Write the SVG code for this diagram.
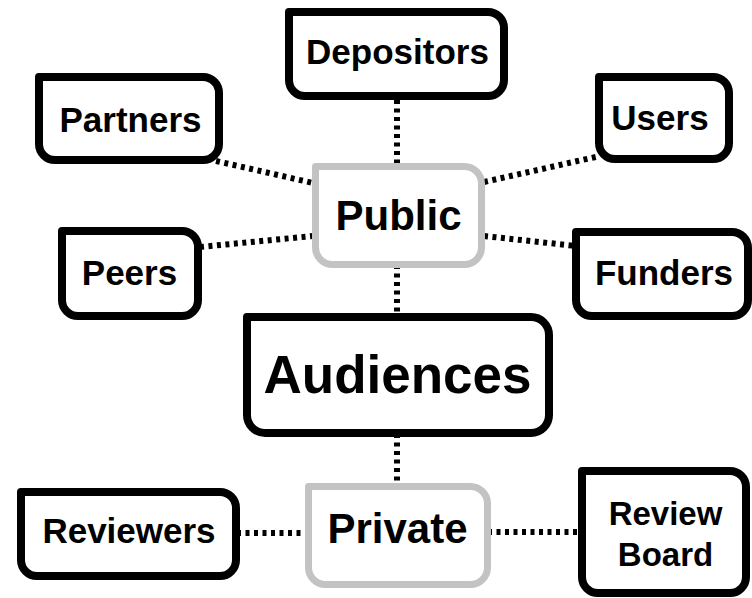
<svg xmlns="http://www.w3.org/2000/svg" width="752" height="598" viewBox="0 0 752 598">
<style>
.b{fill:#fff;stroke:#000;stroke-width:8;stroke-linejoin:round}
.g{fill:#fff;stroke:#c3c3c3;stroke-width:7;stroke-linejoin:round}
.c{stroke:#000;stroke-width:6;stroke-dasharray:4 4.5;fill:none}
text{font-family:"Liberation Sans",Arial,sans-serif;font-weight:bold;fill:#000;text-anchor:middle}
.s{font-size:35px}
.m{font-size:42px}
.l{font-size:53px}
</style>
<rect width="752" height="598" fill="#fff"/>
<g id="connectors">
<line class="c" x1="397" y1="100" x2="397" y2="166"/>
<line class="c" x1="397" y1="265" x2="397" y2="316"/>
<line class="c" x1="397" y1="434" x2="397" y2="486"/>
<line class="c" x1="216" y1="161" x2="313" y2="183"/>
<line class="c" x1="200" y1="247" x2="313" y2="236"/>
<line class="c" x1="484" y1="182" x2="600" y2="156"/>
<line class="c" x1="484" y1="236" x2="576" y2="246"/>
<line class="c" x1="237" y1="533" x2="309" y2="533"/>
<line class="c" x1="488" y1="532" x2="582" y2="532"/>
</g>
<g id="depositors"><path class="b" d="M289,12 H488 A16,16 0 0 1 504,28 V80 A16,16 0 0 1 488,96 H305 A16,16 0 0 1 289,80 Z"/><text class="s" x="397.5" y="64">Depositors</text></g>
<g id="partners"><path class="b" d="M39,77 H203 A16,16 0 0 1 219,93 V144 A16,16 0 0 1 203,160 H55 A16,16 0 0 1 39,144 Z"/><text class="s" x="130.5" y="132">Partners</text></g>
<g id="users"><path class="b" d="M599,77 H713 A16,16 0 0 1 729,93 V143 A16,16 0 0 1 713,159 H615 A16,16 0 0 1 599,143 Z"/><text class="s" x="660" y="130">Users</text></g>
<g id="public"><path class="g" d="M315.5,166.5 H464.5 A17,17 0 0 1 481.5,183.5 V247.5 A17,17 0 0 1 464.5,264.5 H332.5 A17,17 0 0 1 315.5,247.5 Z"/><text class="m" x="398.5" y="230">Public</text></g>
<g id="peers"><path class="b" d="M62,231 H182 A16,16 0 0 1 198,247 V300 A16,16 0 0 1 182,316 H78 A16,16 0 0 1 62,300 Z"/><text class="s" x="129.5" y="285">Peers</text></g>
<g id="funders"><path class="b" d="M576,232 H732 A16,16 0 0 1 748,248 V300 A16,16 0 0 1 732,316 H592 A16,16 0 0 1 576,300 Z"/><text class="s" x="664" y="285">Funders</text></g>
<g id="audiences"><path class="b" d="M247,317 H531 A18,18 0 0 1 549,335 V415 A18,18 0 0 1 531,433 H265 A18,18 0 0 1 247,415 Z"/><text class="l" x="397.5" y="393">Audiences</text></g>
<g id="private"><path class="g" d="M308.5,486.5 H470.5 A17,17 0 0 1 487.5,503.5 V567.5 A17,17 0 0 1 470.5,584.5 H325.5 A17,17 0 0 1 308.5,567.5 Z"/><text class="m" x="397.5" y="543">Private</text></g>
<g id="reviewers"><path class="b" d="M21,492 H220 A16,16 0 0 1 236,508 V560 A16,16 0 0 1 220,576 H37 A16,16 0 0 1 21,560 Z"/><text class="s" x="129" y="543">Reviewers</text></g>
<g id="review-board"><path class="b" d="M582,471 H730 A16,16 0 0 1 746,487 V577 A16,16 0 0 1 730,593 H598 A16,16 0 0 1 582,577 Z"/><text class="s" x="665.5" y="525" style="font-size:33px">Review</text><text class="s" x="665.5" y="566" style="font-size:33px">Board</text></g>
</svg>
